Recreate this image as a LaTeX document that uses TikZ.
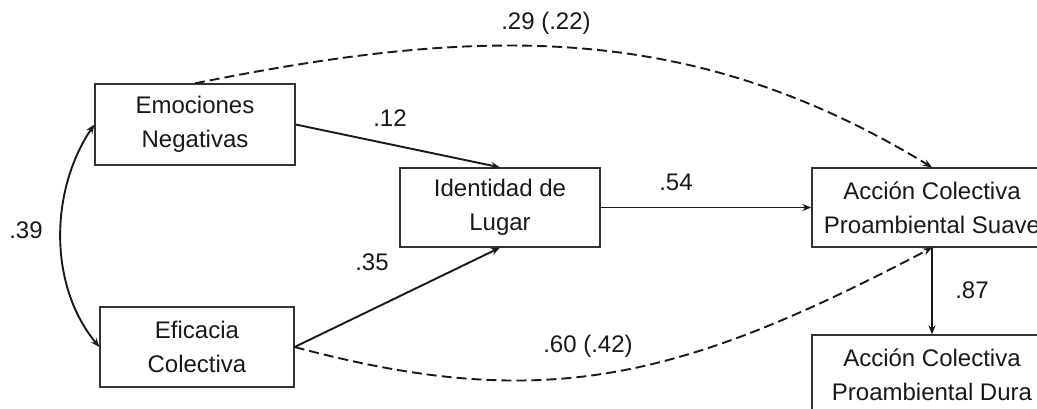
\documentclass[tikz,border=0pt]{standalone}
\usepackage{fontspec}
\setmainfont{Liberation Sans}
\usetikzlibrary{arrows.meta}
\tikzset{
  varbox/.style={draw=black!80, line width=1.3pt, align=center, inner sep=0pt,
    font=\fontsize{24}{34}\selectfont, text=black!90},
  lbl/.style={font=\fontsize{24}{28}\selectfont, text=black!90, inner sep=0pt},
  path/.style={line width=1.9pt, black!90, -{Stealth[length=9pt,width=7pt]}},
  dpath/.style={path, dash pattern=on 10pt off 5pt},
  cov/.style={line width=1.9pt, black!90, {Stealth[length=9pt,width=7pt]}-{Stealth[length=9pt,width=7pt]}}
}
\begin{document}
\begin{tikzpicture}[x=1pt,y=-1pt]
\useasboundingbox (0,0) rectangle (1037,409);
\clip (0,0) rectangle (1037,409);
\fill[white] (0,0) rectangle (1037,409);

\node[varbox, minimum width=200pt, minimum height=81pt] (emo) at (195,124.5) {Emociones\\Negativas};
\node[varbox, minimum width=200pt, minimum height=79pt] (ide) at (500,207.5) {Identidad de\\Lugar};
\node[varbox, minimum width=194pt, minimum height=80pt] (efi) at (197,347) {Eficacia\\Colectiva};
\node[varbox, minimum width=240pt, minimum height=79pt] (sua) at (932,207.5) {Acción Colectiva\\Proambiental Suave};
\node[varbox, minimum width=240pt, minimum height=80pt] (dur) at (932,375) {Acción Colectiva\\Proambiental Dura};

\draw[path] (emo.east) -- (ide.north);
\draw[path] (efi.east) -- (ide.south);
\draw[path] (ide.east) -- (sua.west);
\draw[path] (sua.south) -- (dur.north);
\draw[dpath] (emo.north) .. controls (480,26) and (690,20) .. (sua.north);
\draw[dpath] (efi.east) .. controls (544,414) and (680,380) .. (sua.south);
\draw[cov] (emo.west) .. controls (50,190) and (48,285) .. (efi.west);

\node[lbl] (l29) at (546,23) {.29 (.22)};
\node[lbl] (l12) at (390,118) {.12};
\node[lbl] (l54) at (676,182) {.54};
\node[lbl] (l35) at (372,262) {.35};
\node[lbl] (l39) at (26,230) {.39};
\node[lbl] (l87) at (972,290) {.87};
\node[lbl] (l60) at (588,346) {.60 (.42)};
\end{tikzpicture}
\end{document}
